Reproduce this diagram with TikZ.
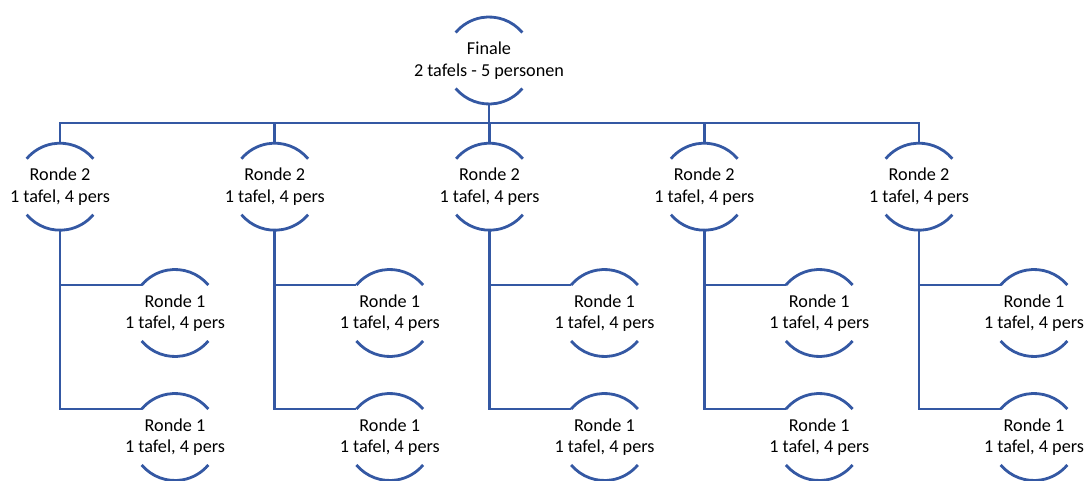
\documentclass[tikz,border=0pt]{standalone}
\usepackage{fontspec}
\setmainfont{Carlito}
\definecolor{treeblue}{RGB}{52,88,163}
\begin{document}
\begin{tikzpicture}[x=1pt,y=1pt,
        ringnode/.style={circle, minimum size=87pt, inner sep=0pt, outer sep=0pt},
        ringtext/.style={align=center, font=\fontsize{18.2}{21.5}\selectfont},
        ringline/.style={draw=treeblue, line width=2.8pt},
    ]
    \useasboundingbox (0,0) rectangle (1087,-481);

    %Nodes
    \node[ringnode, label={[ringtext]center:Finale\\2 tafels - 5 personen}] (fin) at (489,-60.5) {};
    \foreach \i in {1,...,5}{
        \pgfmathsetmacro{\cx}{60+(\i-1)*214.75}
        \node[ringnode, label={[ringtext]center:Ronde 2\\1 tafel, 4 pers}] (rtwo\i) at (\cx,-186.7) {};
        \node[ringnode, label={[ringtext]center:Ronde 1\\1 tafel, 4 pers}] (ronea\i) at (\cx+115,-313) {};
        \node[ringnode, label={[ringtext]center:Ronde 1\\1 tafel, 4 pers}] (roneb\i) at (\cx+115,-437) {};
    }

    % arcs
    \foreach \n in {fin,rtwo1,rtwo2,rtwo3,rtwo4,rtwo5,ronea1,ronea2,ronea3,ronea4,ronea5,roneb1,roneb2,roneb3,roneb4,roneb5}{
        \draw[ringline] (\n.40) arc[start angle=40, end angle=140, radius=43.5pt];
        \draw[ringline] (\n.220) arc[start angle=220, end angle=320, radius=43.5pt];
    }

    %Lines
    \coordinate (bus) at (489,-123);
    \draw[ringline] (fin.south) -- (bus);
    \foreach \i in {1,...,5}{
        \draw[ringline] (bus) -| (rtwo\i.north);
        \draw[ringline] (rtwo\i.south) |- (ronea\i.140);
        \draw[ringline] (rtwo\i.south) |- (roneb\i.140);
    }
\end{tikzpicture}
\end{document}
